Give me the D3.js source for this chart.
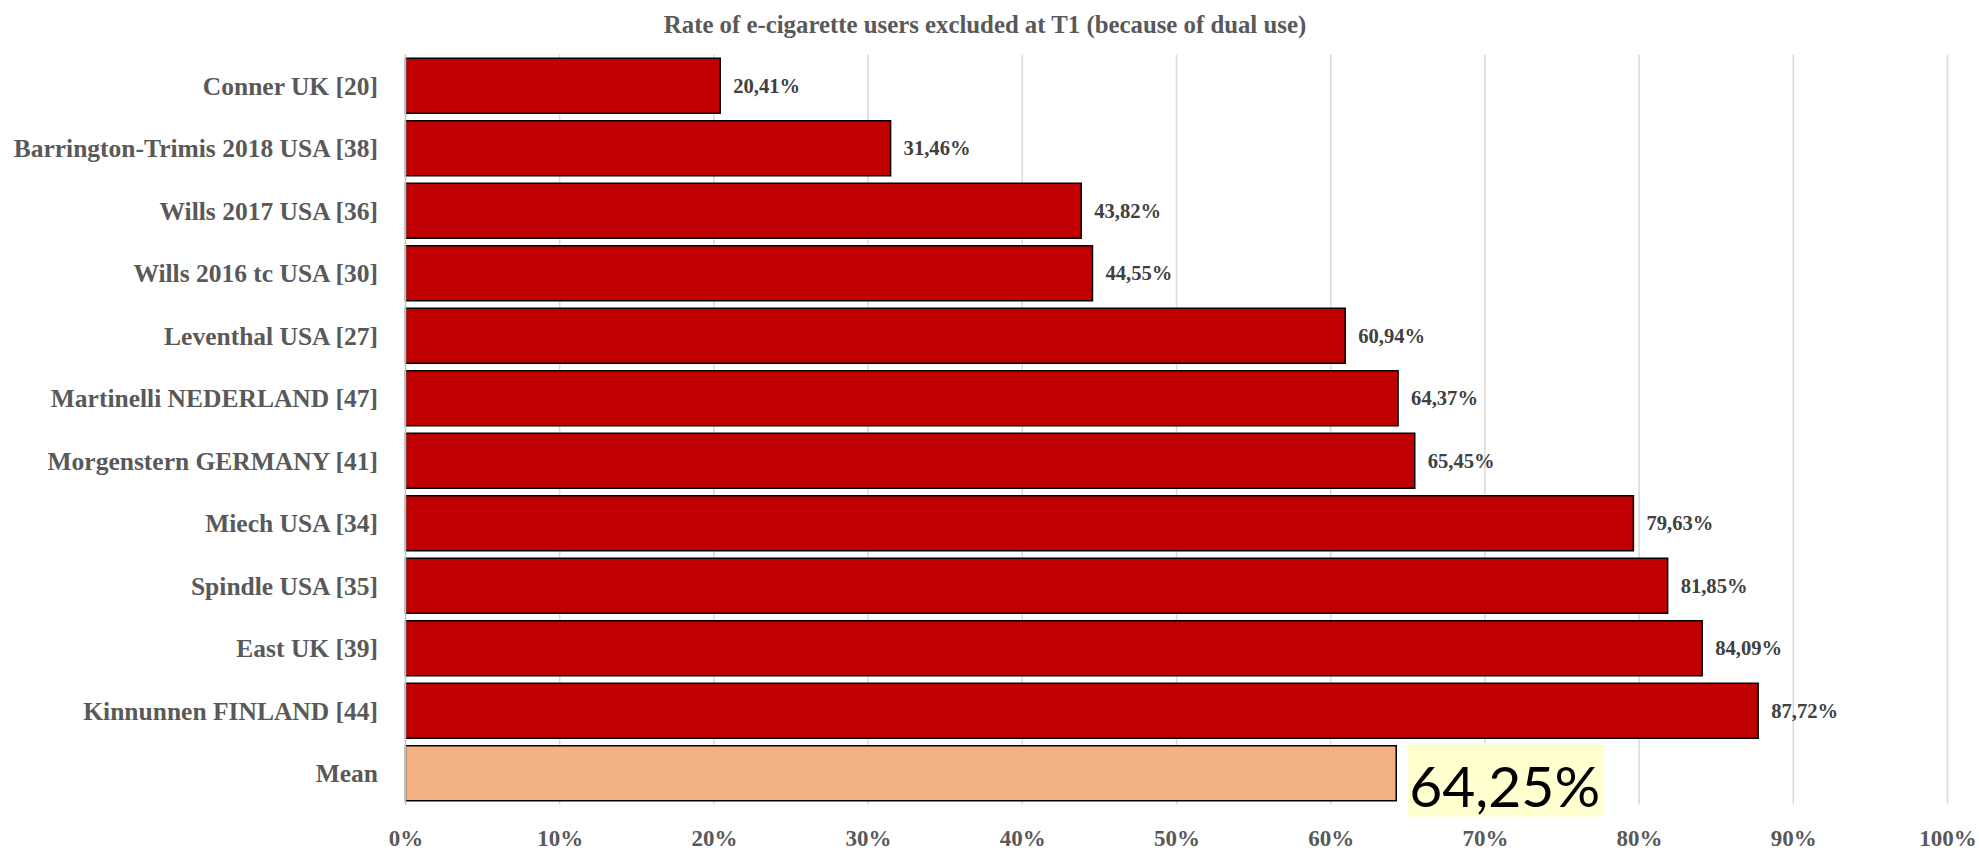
<!DOCTYPE html>
<html>
<head>
<meta charset="utf-8">
<script src="https://cdn.jsdelivr.net/npm/d3@7"></script>
<style>
  html, body { margin: 0; padding: 0; background: #fff; }
  svg { display: block; }
</style>
</head>
<body>
<svg id="chart" width="1979" height="850"></svg>
<script>
const categories = [
  "Conner UK [20]",
  "Barrington-Trimis 2018 USA [38]",
  "Wills 2017 USA [36]",
  "Wills 2016 tc USA [30]",
  "Leventhal USA [27]",
  "Martinelli NEDERLAND [47]",
  "Morgenstern GERMANY [41]",
  "Miech USA [34]",
  "Spindle USA [35]",
  "East UK [39]",
  "Kinnunnen FINLAND [44]",
  "Mean"
];
const values = [20.41, 31.46, 43.82, 44.55, 60.94, 64.37, 65.45, 79.63, 81.85, 84.09, 87.72, 64.25];
const xTicks = [0, 10, 20, 30, 40, 50, 60, 70, 80, 90, 100];
const title = "Rate of e-cigarette users excluded at T1 (because of dual use)";

const svg = d3.select("#chart");
const serif = "'Liberation Serif', 'DejaVu Serif', serif";
const fmt = v => v.toFixed(2).replace(".", ",") + "%";

const x = d3.scaleLinear().domain([0, 100]).range([405.5, 1947.5]);
const y = d3.scaleBand().domain(categories).range([54.5, 804.5]).paddingInner(0.12).paddingOuter(0.06);

// title
svg.append("text")
  .attr("x", 985).attr("y", 33)
  .attr("text-anchor", "middle")
  .attr("font-family", serif).attr("font-weight", "bold")
  .attr("font-size", 24.8).attr("fill", "#595959")
  .text(title);

// gridlines
const plotTop = 54.5, plotBottom = 804.5;
svg.append("g").selectAll("line").data(xTicks.slice(1)).join("line")
  .attr("x1", d => x(d)).attr("x2", d => x(d))
  .attr("y1", plotTop).attr("y2", plotBottom)
  .attr("stroke", "#D9D9D9").attr("stroke-width", 1.5);

// x axis labels via d3 axis
const xAxis = d3.axisBottom(x).tickValues(xTicks).tickFormat(d => d + "%").tickSize(0).tickPadding(0);
const gx = svg.append("g").attr("transform", `translate(0, ${plotBottom})`).call(xAxis);
gx.select(".domain").remove();
gx.selectAll("text")
  .attr("dy", null).attr("y", 41.5)
  .attr("font-family", serif).attr("font-weight", "bold")
  .attr("font-size", 23).attr("fill", "#595959");

// bars
const colors = categories.map(c => c === "Mean" ? "#F4B183" : "#C00000");
svg.append("g").selectAll("rect").data(categories).join("rect")
  .attr("x", x(0))
  .attr("y", d => y(d))
  .attr("width", (d, i) => x(values[i]) - x(0))
  .attr("height", y.bandwidth())
  .attr("fill", (d, i) => colors[i])
  .attr("stroke", "#000").attr("stroke-width", 1.5);

// vertical axis line
svg.append("line")
  .attr("x1", x(0)).attr("x2", x(0))
  .attr("y1", plotTop).attr("y2", plotBottom)
  .attr("stroke", "#BFBFBF").attr("stroke-width", 1.5);

// y axis labels via d3 axis
const yAxis = d3.axisLeft(y).tickSize(0).tickPadding(0);
const gy = svg.append("g").attr("transform", "translate(378, 0)").call(yAxis);
gy.select(".domain").remove();
gy.selectAll("text")
  .attr("x", 0)
  .attr("dy", "0.35em")
  .attr("font-family", serif).attr("font-weight", "bold")
  .attr("font-size", 25.5).attr("fill", "#595959");

// data labels (studies)
svg.append("g").selectAll("text").data(categories.slice(0, -1)).join("text")
  .attr("x", (d, i) => x(values[i]) + 13)
  .attr("y", d => y(d) + y.bandwidth() / 2)
  .attr("dy", "0.35em")
  .attr("font-family", serif).attr("font-weight", "bold")
  .attr("font-size", 20.6).attr("fill", "#404040")
  .text((d, i) => fmt(values[i]));

// mean label with highlight
const mi = categories.length - 1;
const mx = x(values[mi]) + 11.5;
const mg = svg.append("g");
const mBg = mg.append("rect").attr("fill", "#FFFFD0");
const mText = mg.append("text")
  .attr("x", mx + 1.5).attr("y", 806.5)
  .attr("font-family", "Lato, 'Open Sans', sans-serif")
  .attr("font-size", 57).attr("fill", "#000")
  .text(fmt(values[mi]));
const bb = mText.node().getBBox();
mBg.attr("x", mx).attr("y", 743.3).attr("width", bb.width + 5.5).attr("height", 73.4);
</script>
</body>
</html>
